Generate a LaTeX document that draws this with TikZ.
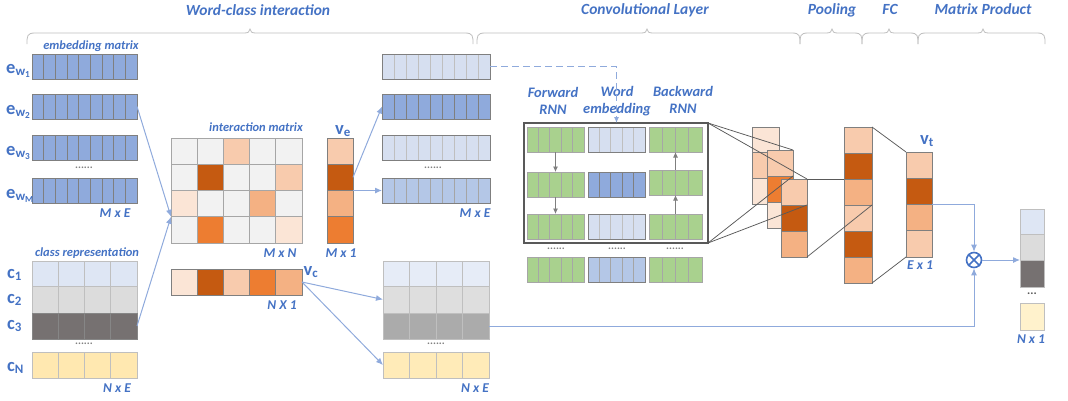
\documentclass[tikz,border=0pt]{standalone}
\usepackage{fontspec}
\setmainfont{Carlito}[ItalicFont={Carlito Italic}, BoldFont={Carlito Bold}, BoldItalicFont={Carlito Bold Italic}]
\usetikzlibrary{arrows.meta,calc}
\definecolor{lblue}{HTML}{4472C4}
\definecolor{connc}{HTML}{8FAADC}
\definecolor{dblue}{HTML}{8FAADC}
\definecolor{pblue}{HTML}{D6DFF0}
\definecolor{mblue}{HTML}{B4C7E7}
\definecolor{ggreen}{HTML}{A9D18E}
\definecolor{o1}{HTML}{FBE5D6}
\definecolor{o2}{HTML}{F8CBAD}
\definecolor{o3}{HTML}{F4B183}
\definecolor{o4}{HTML}{ED7D31}
\definecolor{o5}{HTML}{C55A11}
\definecolor{gcell}{HTML}{F2F2F2}
\definecolor{edge}{HTML}{7F7F7F}
\definecolor{lgrey}{HTML}{BFBFBF}
\definecolor{imgrid}{HTML}{A6A6A6}
\definecolor{cA}{HTML}{DEE6F4}
\definecolor{cB}{HTML}{DCDCDC}
\definecolor{cC}{HTML}{767171}
\definecolor{cD}{HTML}{FFE8B0}
\definecolor{rA}{HTML}{E6ECF7}
\definecolor{rB}{HTML}{DEDEDE}
\definecolor{rC}{HTML}{ABABAB}
\definecolor{rD}{HTML}{FFEBB8}
\definecolor{outD}{HTML}{FFF2CC}
\definecolor{boxc}{HTML}{595959}
\definecolor{glinec}{HTML}{595959}
\definecolor{bracecol}{HTML}{BFBFBF}
\tikzset{
  cellbox/.style={anchor=north west, inner sep=0pt, outer sep=0pt, draw=edge, line width=0.9pt},
  lab/.style={text=lblue, font=\fontsize{12.5}{13}\selectfont\bfseries\itshape, inner sep=0pt},
  dimlab/.style={text=lblue, font=\fontsize{13.5}{14}\selectfont\bfseries\itshape, inner sep=0pt},
  rnnlab/.style={text=lblue, font=\fontsize{14.5}{17}\selectfont\bfseries\itshape, inner sep=0pt, align=center},
  head/.style={text=lblue, font=\fontsize{15.5}{16}\selectfont\bfseries\itshape, inner sep=0pt},
  mlab/.style={text=lblue, inner sep=0pt, font=\fontsize{18.5}{18}\selectfont},
  conn/.style={draw=connc, line width=1pt},
  arr/.style={conn, -{Latex[length=7pt,width=6pt]}},
  garr/.style={draw=edge, line width=0.8pt, -{Latex[length=5.5pt,width=5pt]}},
  gline/.style={draw=glinec, line width=0.75pt},
  dotsty/.style={text=edge, font=\fontsize{11}{11}\selectfont\bfseries, inner sep=0pt},
  bracesty/.style={draw=bracecol, line width=0.8pt},
}
\newcommand\hrow[9]{%
  \node[cellbox, draw=none, fill=#7, minimum width=#4pt, minimum height=#5pt] (#1) at (#2,#3) {};
  \pgfmathtruncatemacro\hrowlast{#6-1}
  \foreach \k in {1,...,\hrowlast}{\draw[draw=#8, line width=0.9pt] ($(#1.north west)!{\k/#6}!(#1.north east)$) -- ($(#1.south west)!{\k/#6}!(#1.south east)$);}
  \draw[draw=#9, line width=1pt] (#1.north west) rectangle (#1.south east);
}
\newcommand\vcol[6]{%
  \foreach [count=\i] \cc in {#6}{\node[cellbox, fill=\cc, minimum width=#4pt, minimum height=#5pt] (#1-\i) at (#2,{#3+(\i-1)*#5}) {};}
}
\newcommand\mybrace[3]{%
  \draw[bracesty] (#1,44) .. controls (#1,36) and (#1,33) .. ({#1+8},33) -- ({#2-6},33) .. controls ({#2-2},33) and (#2,32) .. (#2,29) .. controls (#2,32) and ({#2+2},33) .. ({#2+6},33) -- ({#3-8},33) .. controls (#3,33) and (#3,36) .. (#3,44);
}
\begin{document}
\begin{tikzpicture}[x=1pt,y=-1pt]
\useasboundingbox (0,0) rectangle (1068,400);
% headers
\node[head] (h1) at (258,10) {Word-class interaction};
\node[head] (h2) at (645,10) {Convolutional Layer};
\node[head] (h3) at (832,10) {Pooling};
\node[head] (h4) at (890,9) {FC};
\node[head] (h5) at (983,9) {Matrix Product};
\mybrace{27}{250}{473}
\mybrace{477}{647}{800}
\mybrace{800}{832}{862}
\mybrace{862}{889}{918}
\mybrace{918}{983}{1045}

% embedding matrix (left)
\node[lab] (emlab) at (91,46) {embedding matrix};
\hrow{ew1}{32}{54}{105}{25}{9}{dblue}{edge}{edge}
\hrow{ew2}{32}{94}{105}{25}{9}{dblue}{edge}{edge}
\hrow{ew3}{32}{135}{105}{25}{9}{dblue}{edge}{edge}
\hrow{ewM}{32}{178}{105}{25}{9}{dblue}{edge}{edge}
\node[dotsty] (d1) at (84,168) {......};
\node[dimlab] (mxe1) at (115,213) {M x E};
\node[mlab, anchor=base west] (le1) at (6,73) {$\mathbf{e}_{\mathbf{w}_{\mathbf{1}}}$};
\node[mlab, anchor=base west] (le2) at (6,114) {$\mathbf{e}_{\mathbf{w}_{\mathbf{2}}}$};
\node[mlab, anchor=base west] (le3) at (6,155) {$\mathbf{e}_{\mathbf{w}_{\mathbf{3}}}$};
\node[mlab, anchor=base west] (leM) at (6,198) {$\mathbf{e}_{\mathbf{w}_{\mathbf{M}}}$};

% class representation (left)
\node[lab] (crlab) at (87,253) {class representation};
\hrow{c1}{32}{261}{105}{25}{4}{cA}{lgrey}{lgrey}
\hrow{c2}{32}{286}{105}{27}{4}{cB}{lgrey}{lgrey}
\hrow{c3}{32}{313}{105}{26}{4}{cC}{lgrey!70!black}{lgrey!70!black}
\hrow{cN}{32}{352}{105}{26}{4}{cD}{lgrey}{lgrey}
\node[dotsty] (d2) at (84,344) {......};
\node[dimlab] (nxe1) at (117,388) {N x E};
\node[mlab, anchor=base west] (lc1) at (7,278) {$\mathbf{c}_{\mathbf{1}}$};
\node[mlab, anchor=base west] (lc2) at (7,303) {$\mathbf{c}_{\mathbf{2}}$};
\node[mlab, anchor=base west] (lc3) at (7,329) {$\mathbf{c}_{\mathbf{3}}$};
\node[mlab, anchor=base west] (lcN) at (7,371) {$\mathbf{c}_{\mathbf{N}}$};

% interaction matrix
\node[lab] (imlab) at (256,127) {interaction matrix};
\foreach [count=\r] \rowc in {{gcell,gcell,o2,gcell,gcell},{gcell,o5,gcell,gcell,o2},{o1,gcell,gcell,o3,gcell},{gcell,o4,gcell,gcell,o1}}{
  \foreach [count=\cj] \cc in \rowc {
    \node[cellbox, draw=imgrid, fill=\cc, minimum width=26.2pt, minimum height=26.25pt] (im-\r-\cj) at ({171+(\cj-1)*26.2},{138+(\r-1)*26.25}) {};
  }
}
\node[dimlab] (mxn) at (280,253) {M x N};
% v_e
\vcol{ve}{327}{138}{26}{26.25}{o2,o5,o3,o4}
\node[mlab] (vel) at (343,131) {$\mathbf{v}_{\mathbf{e}}$};
\node[dimlab] (mx1) at (341,253) {M x 1};
% v_c
\foreach [count=\cj] \cc in {o1,o5,o2,o4,o3}{
  \node[cellbox, fill=\cc, minimum width=26.2pt, minimum height=26pt] (vc-\cj) at ({171+(\cj-1)*26.2},269) {};
}
\node[mlab] (vcl) at (311,272) {$\mathbf{v}_{\mathbf{c}}$};
\node[dimlab] (nx1) at (282,305) {N X 1};

% right copies of embeddings
\hrow{cw1}{382}{54}{108}{25}{9}{pblue}{lgrey}{edge}
\hrow{cw2}{382}{94}{108}{25}{9}{dblue}{edge}{edge}
\hrow{cw3}{382}{135}{108}{25}{9}{pblue}{lgrey}{edge}
\hrow{cwM}{382}{178}{108}{25}{9}{mblue}{edge!70}{edge}
\node[dotsty] (d3) at (433,168) {......};
\node[dimlab] (mxe2) at (475,213) {M x E};
% right copies of classes
\hrow{cc1}{383}{261}{106}{25}{4}{rA}{lgrey}{lgrey}
\hrow{cc2}{383}{286}{106}{27}{4}{rB}{lgrey}{lgrey}
\hrow{cc3}{383}{313}{106}{26}{4}{rC}{lgrey}{lgrey}
\hrow{ccN}{383}{352}{106}{26}{4}{rD}{lgrey}{lgrey}
\node[dotsty] (d4) at (436,344) {......};
\node[dimlab] (nxe2) at (475,388) {N x E};

% connectors word-class
\draw[arr] (ew2.east) -- (im-4-1.north west);
\draw[arr] (c3.east) -- (im-4-1.north west);
\draw[arr] (ve-2.east) -- (cw2.west);
\draw[arr] (ve-3.north east) -- (ve-3.north east -| cwM.west);
\draw[arr] (vc-5.east) -- (cc2.west);
\draw[arr] (vc-5.east) -- (ccN.west);

% convolutional layer
\node[rnnlab] (fwl) at (553,101) {Forward\\RNN};
\node[rnnlab] (wel) at (617,101) {Word\\embedding};
\node[rnnlab] (bwl) at (683,100) {Backward\\RNN};
\hrow{f1}{527}{127}{57}{25}{5}{ggreen}{imgrid}{imgrid}
\hrow{f2}{527}{172}{57}{25}{5}{ggreen}{imgrid}{imgrid}
\hrow{f3}{527}{214}{57}{25}{5}{ggreen}{imgrid}{imgrid}
\hrow{f4}{527}{257}{57}{25}{5}{ggreen}{imgrid}{imgrid}
\hrow{we1}{588}{127}{57}{25}{5}{pblue}{lgrey}{edge}
\hrow{we2}{588}{172}{57}{25}{5}{dblue}{edge}{edge}
\hrow{we3}{588}{214}{57}{25}{5}{pblue}{lgrey}{edge}
\hrow{we4}{588}{257}{57}{25}{5}{mblue}{edge!70}{edge}
\hrow{b1}{649}{127}{53}{25}{4}{ggreen}{imgrid}{imgrid}
\hrow{b2}{649}{170}{53}{25}{4}{ggreen}{imgrid}{imgrid}
\hrow{b3}{649}{214}{53}{25}{4}{ggreen}{imgrid}{imgrid}
\hrow{b4}{649}{257}{53}{25}{4}{ggreen}{imgrid}{imgrid}
\node[cellbox, draw=boxc, line width=2.6pt, minimum width=184pt, minimum height=120pt] (cbox) at (524,123) {};
\node[dotsty] (d5) at (556,249) {......};
\node[dotsty] (d6) at (617,249) {......};
\node[dotsty] (d7) at (675,249) {......};
\draw[garr] (f1.south) -- (f2.north);
\draw[garr] (f2.south) -- (f3.north);
\draw[garr] (b3.north) -- (b2.south);
\draw[garr] (b2.north) -- (b1.south);
\draw[conn, dashed, dash pattern=on 7pt off 4pt, -{Latex[length=6pt,width=5pt]}] (cw1.east) -| (we1.north |- cbox.north);

% feature maps
\vcol{fa}{752}{127}{27}{25.7}{o1,o2,o1}
\vcol{fb}{767}{150}{26}{26}{o2,o4,o1}
\vcol{fc}{781}{179}{26}{26}{o2,o5,o3}
\vcol{pool}{844}{127}{28}{26}{o2,o5,o3,o2,o5,o3}
\draw[gline] (cbox.north east) -- (fb-1.north east);
\draw[gline] (cbox.north east) -- (fc-1.north east);
\draw[gline] (cbox.south east) -- (fb-2.north east);
\draw[gline] (cbox.south east) -- (fc-2.north east);
\draw[gline] (fc-1.north east) -- (pool-3.north west);
\draw[gline] (fc-3.south east) -- (pool-4.north east);

% FC
\vcol{vt}{906}{152}{26}{26.25}{o2,o5,o3,o2}
\draw[gline] (pool-1.north east) -- (vt-1.north west);
\draw[gline] (pool-6.south east) -- (vt-4.south west);
\node[mlab] (vtl) at (927,141) {$\mathbf{v}_{\mathbf{t}}$};
\node[dimlab] (ex1) at (920,265) {E x 1};

% matrix product
\node[circle, draw=lblue, line width=1.6pt, minimum size=15pt, inner sep=0pt] (ot) at (974,260) {};
\draw[lblue, line width=1.6pt] (ot.north west) -- (ot.south east) (ot.north east) -- (ot.south west);
\node[cellbox, draw=lgrey, fill=cA, minimum width=24pt, minimum height=25pt] (out1) at (1020,209) {};
\node[cellbox, draw=lgrey, fill=cB, minimum width=24pt, minimum height=26pt] (out2) at (1020,234) {};
\node[cellbox, draw=lgrey, fill=cC, minimum width=24pt, minimum height=27pt] (out3) at (1020,260) {};
\node[cellbox, draw=lgrey, fill=outD, minimum width=24pt, minimum height=27pt] (out4) at (1020,303) {};
\node[text=boxc, font=\fontsize{12}{12}\selectfont\bfseries, inner sep=0pt] (d8) at (1032,294) {...};
\node[dimlab] (nx1b) at (1031,339) {N x 1};
\draw[arr] (vt-3.north east) -| (ot.north);
\draw[arr] (cc3.east) -| (ot.south);
\draw[arr] (ot.east) -- (ot.east -| out3.west);
\end{tikzpicture}
\end{document}
